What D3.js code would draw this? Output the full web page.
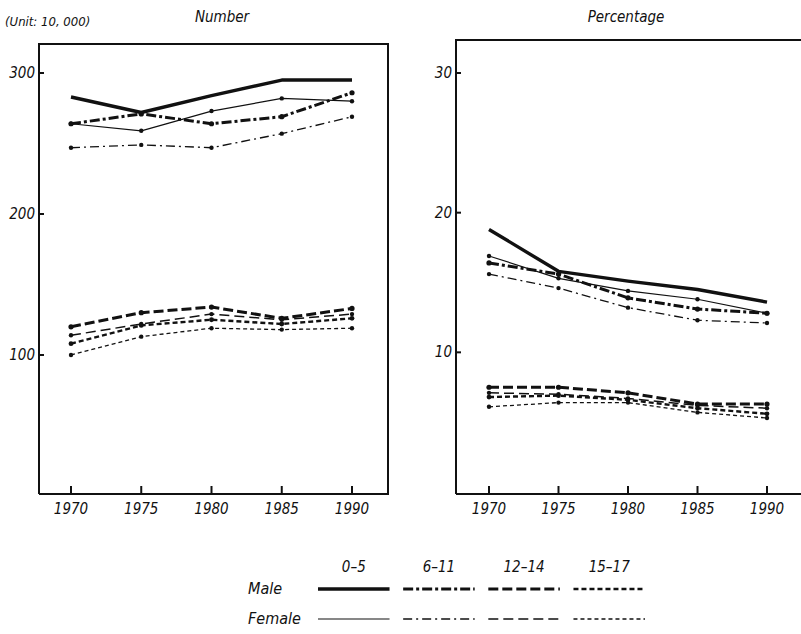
<!DOCTYPE html>
<html>
<head>
<meta charset="utf-8">
<script src="https://cdn.jsdelivr.net/npm/d3@7"></script>
<style>
  body { margin: 0; background: #fff; }
  text { font-family: "DejaVu Sans Condensed", "DejaVu Sans", sans-serif; font-stretch: condensed; font-style: italic; fill: #111; }
</style>
</head>
<body>
<div id="chart"></div>
<script>
const years = [1970, 1975, 1980, 1985, 1990];
const groups = ["0–5", "6–11", "12–14", "15–17"];

// Number (unit: 10,000)
const numMale0_5 = [283, 272, 284, 295, 295];
const numFemale0_5 = [264, 259, 273, 282, 280];
const numMale6_11 = [264, 271, 264, 269, 286];
const numFemale6_11 = [247, 249, 247, 257, 269];
const numMale12_14 = [120, 130, 134, 126, 133];
const numFemale12_14 = [114, 122, 129, 125, 129];
const numMale15_17 = [108, 121, 125, 122, 126];
const numFemale15_17 = [100, 113, 119, 118, 119];

// Percentage
const pctMale0_5 = [18.8, 15.8, 15.1, 14.5, 13.6];
const pctFemale0_5 = [16.9, 15.3, 14.4, 13.8, 12.8];
const pctMale6_11 = [16.4, 15.6, 13.9, 13.1, 12.8];
const pctFemale6_11 = [15.6, 14.6, 13.2, 12.3, 12.1];
const pctMale12_14 = [7.5, 7.5, 7.1, 6.3, 6.3];
const pctFemale12_14 = [7.1, 7.0, 6.7, 6.2, 6.0];
const pctMale15_17 = [6.8, 6.9, 6.6, 6.0, 5.6];
const pctFemale15_17 = [6.1, 6.4, 6.4, 5.7, 5.3];

const numTicks = [100, 200, 300];
const pctTicks = [10, 20, 30];

// line styles, index = group; [male, female]
const styles = [
  [{ w: 3.4, dash: null, r: 0 }, { w: 1.2, dash: null, r: 2.2 }],
  [{ w: 3, dash: "10,3,3,3", r: 2.6 }, { w: 1.3, dash: "9,4,2,4", r: 2.2 }],
  [{ w: 3, dash: "10,4", r: 2.6 }, { w: 1.5, dash: "10,5", r: 2.2 }],
  [{ w: 2.4, dash: "5,3", r: 2.4 }, { w: 1.3, dash: "4,3", r: 2.2 }]
];

const svg = d3.select("#chart").append("svg")
  .attr("width", 801).attr("height", 634);

function panel(opts) {
  let g = svg.append("g");
  let x = d3.scaleLinear().domain([1970, 1990]).range(opts.xr);
  let y = d3.scaleLinear().domain([0, opts.ymax]).range(opts.yr);

  // frame
  g.append("path")
    .attr("d", `M${opts.box[0]},${opts.box[3]} V${opts.box[1]} H${opts.box[2]} V${opts.box[3]} H${opts.box[0]}`)
    .attr("fill", "none").attr("stroke", "#111").attr("stroke-width", 2);

  // y axis ticks (inward) and labels
  opts.ticks.forEach(function(t) {
    g.append("line")
      .attr("x1", opts.box[0]).attr("x2", opts.box[0] + 5)
      .attr("y1", y(t)).attr("y2", y(t))
      .attr("stroke", "#111").attr("stroke-width", 2);
    g.append("text")
      .attr("x", opts.box[0] - 4).attr("y", y(t) + 5)
      .attr("text-anchor", "end")
      .style("font-size", "15px")
      .text(t);
  });

  // x axis ticks (inward) and labels
  years.forEach(function(yr) {
    g.append("line")
      .attr("x1", x(yr)).attr("x2", x(yr))
      .attr("y1", opts.box[3]).attr("y2", opts.box[3] - 8)
      .attr("stroke", "#111").attr("stroke-width", 2);
    g.append("text")
      .attr("x", x(yr)).attr("y", opts.box[3] + 20)
      .attr("text-anchor", "middle")
      .style("font-size", "15px")
      .text(yr);
  });

  g.append("text")
    .attr("x", opts.titleX).attr("y", 22)
    .attr("text-anchor", "middle")
    .style("font-size", "15px")
    .text(opts.title);

  let line = d3.line()
    .x(function(d, i) { return x(years[i]); })
    .y(function(d) { return y(d); });

  opts.series.forEach(function(pair, gi) {
    pair.forEach(function(vals, si) {
      let st = styles[gi][si];
      g.append("path")
        .datum(vals)
        .attr("d", line)
        .attr("fill", "none")
        .attr("stroke", "#111")
        .attr("stroke-width", st.w)
        .attr("stroke-dasharray", st.dash)
        .attr("stroke-linejoin", "round");
      if (st.r > 0) {
        g.selectAll(null).data(vals).enter()
          .append("circle")
          .attr("cx", function(d, i) { return x(years[i]); })
          .attr("cy", function(d) { return y(d); })
          .attr("r", st.r)
          .attr("fill", "#111");
      }
    });
  });
}

panel({
  xr: [71, 352], yr: [496, 73], ymax: 300, box: [39, 44, 388, 494],
  ticks: numTicks, title: "Number", titleX: 222,
  series: [
    [numMale0_5, numFemale0_5],
    [numMale6_11, numFemale6_11],
    [numMale12_14, numFemale12_14],
    [numMale15_17, numFemale15_17]
  ]
});

panel({
  xr: [489, 767], yr: [492, 73], ymax: 30, box: [456, 40, 806, 494],
  ticks: pctTicks, title: "Percentage", titleX: 626,
  series: [
    [pctMale0_5, pctFemale0_5],
    [pctMale6_11, pctFemale6_11],
    [pctMale12_14, pctFemale12_14],
    [pctMale15_17, pctFemale15_17]
  ]
});

svg.append("text")
  .attr("x", 5).attr("y", 26)
  .style("font-size", "13px")
  .text("(Unit: 10, 000)");

// legend
let legX = d3.scaleBand().domain(groups).range([318, 645]).paddingInner(0.16);
let rows = [{ label: "Male", y: 589 }, { label: "Female", y: 619 }];

let legend = svg.append("g");
groups.forEach(function(gr, gi) {
  legend.append("text")
    .attr("x", legX(gr) + legX.bandwidth() / 2).attr("y", 572)
    .attr("text-anchor", "middle")
    .style("font-size", "15px")
    .text(gr);
  rows.forEach(function(row, si) {
    let st = styles[gi][si];
    legend.append("line")
      .attr("x1", legX(gr)).attr("x2", legX(gr) + legX.bandwidth())
      .attr("y1", row.y).attr("y2", row.y)
      .attr("stroke", "#111")
      .attr("stroke-width", st.w)
      .attr("stroke-dasharray", st.dash);
  });
});
rows.forEach(function(row) {
  legend.append("text")
    .attr("x", 248).attr("y", row.y + 5)
    .style("font-size", "16px")
    .text(row.label);
});
</script>
</body>
</html>
